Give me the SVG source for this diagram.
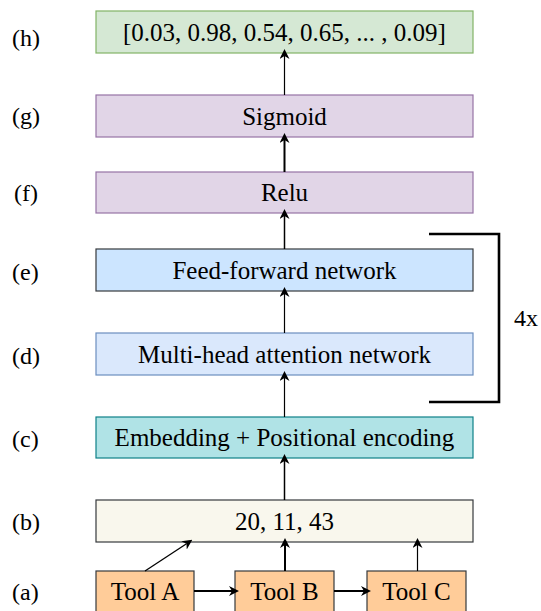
<svg xmlns="http://www.w3.org/2000/svg" width="541" height="611" viewBox="0 0 541 611">
  <style>
    .box { stroke-width: 1.2; }
    .t { font-family: "Liberation Serif", "Times New Roman", serif; font-size: 25px; fill: #000; text-anchor: middle; }
    .lbl { font-family: "Liberation Serif", "Times New Roman", serif; font-size: 24px; fill: #000; }
    .c { fill: none; stroke: #000; }
    .green { fill: #d5e8d4; stroke: #82b366; }
    .purple { fill: #e1d5e7; stroke: #9673a6; }
    .blue2 { fill: #cce5ff; stroke: #36393d; }
    .blue { fill: #dae8fc; stroke: #6c8ebf; }
    .teal { fill: #b0e3e6; stroke: #0e8088; }
    .cream { fill: #f9f7ed; stroke: #36393d; }
    .orange { fill: #ffcc99; stroke: #36393d; }
  </style>
  <defs>
    <marker id="arr" viewBox="0 0 10 10" refX="3" refY="5" markerWidth="10" markerHeight="10" markerUnits="userSpaceOnUse" orient="auto">
      <path d="M0,0 L10,5 L0,10 L3,5 z" fill="#000"/>
    </marker>
  </defs>
  <rect width="541" height="611" fill="#fff"/>

  <g id="labels">
    <text class="lbl" x="12" y="46">(h)</text>
    <text class="lbl" x="12" y="124">(g)</text>
    <text class="lbl" x="14" y="201">(f)</text>
    <text class="lbl" x="12" y="280">(e)</text>
    <text class="lbl" x="12" y="364">(d)</text>
    <text class="lbl" x="12" y="447">(c)</text>
    <text class="lbl" x="12" y="530">(b)</text>
    <text class="lbl" x="12" y="600">(a)</text>
  </g>

  <g id="node-h">
    <rect class="box green" x="96" y="11" width="377" height="42"/>
    <text class="t" x="284.5" y="41">[0.03, 0.98, 0.54, 0.65, ... , 0.09]</text>
  </g>
  <g id="node-g">
    <rect class="box purple" x="96" y="95" width="377" height="42"/>
    <text class="t" x="284.5" y="125">Sigmoid</text>
  </g>
  <g id="node-f">
    <rect class="box purple" x="96" y="172" width="377" height="41"/>
    <text class="t" x="284.5" y="201">Relu</text>
  </g>
  <g id="node-e">
    <rect class="box blue2" x="96" y="249" width="377" height="42"/>
    <text class="t" x="284.5" y="279">Feed-forward network</text>
  </g>
  <g id="node-d">
    <rect class="box blue" x="96" y="333" width="377" height="42"/>
    <text class="t" x="284.5" y="363">Multi-head attention network</text>
  </g>
  <g id="node-c">
    <rect class="box teal" x="96" y="417" width="377" height="41"/>
    <text class="t" x="284.5" y="446">Embedding + Positional encoding</text>
  </g>
  <g id="node-b">
    <rect class="box cream" x="96" y="500" width="377" height="42"/>
    <text class="t" x="284.5" y="530">20, 11, 43</text>
  </g>
  <g id="node-toolA">
    <rect class="box orange" x="96" y="571" width="98" height="41"/>
    <text class="t" x="145" y="600">Tool A</text>
  </g>
  <g id="node-toolB">
    <rect class="box orange" x="235" y="571" width="99" height="41"/>
    <text class="t" x="284.5" y="600">Tool B</text>
  </g>
  <g id="node-toolC">
    <rect class="box orange" x="367" y="571" width="99" height="41"/>
    <text class="t" x="416.5" y="600">Tool C</text>
  </g>

  <g id="bracket">
    <path d="M429,234 H499 V402 H429" fill="none" stroke="#000" stroke-width="2.6"/>
    <text class="lbl" x="514" y="326">4x</text>
  </g>

  <g id="connectors">
    <line class="c" x1="284.5" y1="95" x2="284.5" y2="56" stroke-width="1.2" marker-end="url(#arr)"/>
    <line class="c" x1="284.5" y1="172" x2="284.5" y2="140" stroke-width="2" marker-end="url(#arr)"/>
    <line class="c" x1="284.5" y1="249" x2="284.5" y2="216" stroke-width="1.5" marker-end="url(#arr)"/>
    <line class="c" x1="284.5" y1="333" x2="284.5" y2="294" stroke-width="1.2" marker-end="url(#arr)"/>
    <line class="c" x1="284.5" y1="417" x2="284.5" y2="378" stroke-width="1.2" marker-end="url(#arr)"/>
    <line class="c" x1="284.5" y1="500" x2="284.5" y2="461" stroke-width="1.5" marker-end="url(#arr)"/>
    <line class="c" x1="285" y1="571" x2="285" y2="545" stroke-width="2" marker-end="url(#arr)"/>
    <line class="c" x1="417.5" y1="571" x2="417.5" y2="545" stroke-width="1.2" marker-end="url(#arr)"/>
    <line class="c" x1="145" y1="571" x2="186.5" y2="543.7" stroke-width="1.3" marker-end="url(#arr)"/>
    <line class="c" x1="194" y1="591" x2="232" y2="591" stroke-width="2" marker-end="url(#arr)"/>
    <line class="c" x1="334" y1="591" x2="364" y2="591" stroke-width="2" marker-end="url(#arr)"/>
  </g>
</svg>
